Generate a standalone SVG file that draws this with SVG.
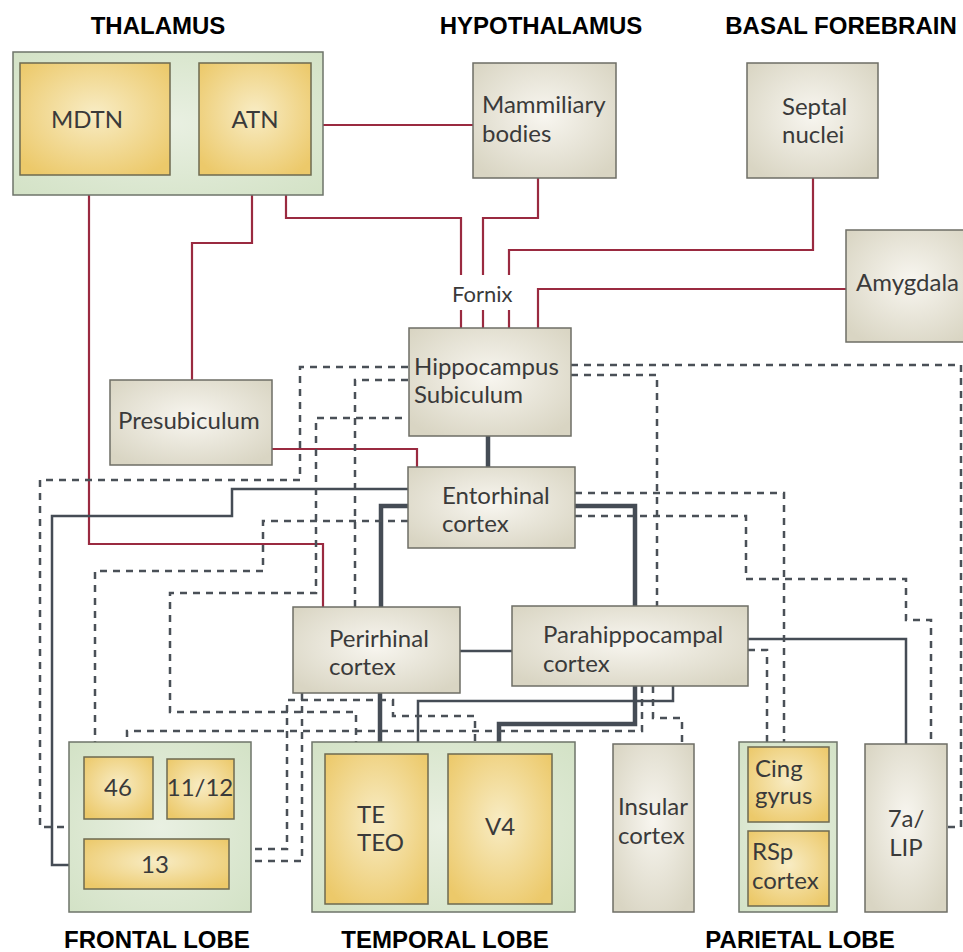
<svg xmlns="http://www.w3.org/2000/svg" width="963" height="952" viewBox="0 0 963 952">
<defs>
<radialGradient id="gBeige" cx="50%" cy="45%" r="65%">
<stop offset="0" stop-color="#f8f6f0"/><stop offset="1" stop-color="#d9d5c3"/>
</radialGradient>
<radialGradient id="gYellow" cx="50%" cy="45%" r="65%">
<stop offset="0" stop-color="#f8ecc4"/><stop offset="1" stop-color="#ecc96a"/>
</radialGradient>
<radialGradient id="gGreen" cx="50%" cy="50%" r="70%">
<stop offset="0" stop-color="#e9f0e2"/><stop offset="1" stop-color="#d3e2c6"/>
</radialGradient>
<style>
.title{font-family:"Liberation Sans",Arial,sans-serif;font-weight:bold;font-size:24px;fill:#000;text-anchor:middle}
.lbl{font-family:Lato,"Open Sans",sans-serif;font-size:24px;fill:#3a3a3a}
.c{text-anchor:middle}
.beige{fill:url(#gBeige);stroke:#6e6e66;stroke-width:1.5}
.yel{fill:url(#gYellow);stroke:#6e6a50;stroke-width:1.5}
.grn{fill:url(#gGreen);stroke:#6e746a;stroke-width:1.5}
.red{fill:none;stroke:#9a2a40;stroke-width:2.2}
.sol{fill:none;stroke:#454c55;stroke-width:2.5}
.thk{fill:none;stroke:#454c55;stroke-width:4.5}
.dsh{fill:none;stroke:#4a5057;stroke-width:2.5;stroke-dasharray:7 6}
</style>
</defs>
<rect width="963" height="952" fill="#ffffff"/>

<g id="titles">
<text class="title" x="158" y="34">THALAMUS</text>
<text class="title" x="541" y="34">HYPOTHALAMUS</text>
<text class="title" x="841" y="34">BASAL FOREBRAIN</text>
<text class="title" x="157" y="948">FRONTAL LOBE</text>
<text class="title" x="445" y="948">TEMPORAL LOBE</text>
<text class="title" x="800" y="948">PARIETAL LOBE</text>
</g>

<g id="connectors">
<path class="red" d="M323,125 H473"/>
<path class="red" d="M89,180 V544 H323 V607"/>
<path class="red" d="M252,180 V243 H192 V380"/>
<path class="red" d="M286,180 V218 H461 V275 M461,310 V328"/>
<path class="red" d="M538,178 V218 H483 V275 M483,310 V328"/>
<path class="red" d="M813,178 V250 H509 V275 M509,310 V328"/>
<path class="red" d="M846,289 H538 V328"/>
<path class="red" d="M272,449 H417 V467"/>
<path class="thk" d="M488,435 V467"/>
<path class="thk" d="M408,506 H381 V607"/>
<path class="thk" d="M575,506 H635 V606"/>
<path class="thk" d="M380,693 V742"/>
<path class="thk" d="M635,686 V724 H499 V742"/>
<path class="sol" d="M408,489 H232 V516 H52 V865 H69"/>
<path class="sol" d="M460,651 H512"/>
<path class="sol" d="M748,639 H906 V744"/>
<path class="sol" d="M673,686 V701 H418 V742"/>
<path class="dsh" d="M408,367 H300 V480 H40 V827 H69"/>
<path class="dsh" d="M408,380 H355 V607"/>
<path class="dsh" d="M402,418 H316 V593 H170 V712 H356 V742"/>
<path class="dsh" d="M408,521 H263 V571 H95 V742"/>
<path class="dsh" d="M571,365 H961 V827 H947"/>
<path class="dsh" d="M571,375 H657 V606"/>
<path class="dsh" d="M575,493 H784 V742"/>
<path class="dsh" d="M575,516 H746 V579 H906 V620 H931 V744"/>
<path class="dsh" d="M748,650 H767 V742"/>
<path class="dsh" d="M653,686 V718 H682 V744"/>
<path class="dsh" d="M642,686 V731 H127 V742"/>
<path class="dsh" d="M229,849 H287 V700 H393 V716 H475 V742"/>
<path class="dsh" d="M229,861 H302 V693"/>
</g>

<g id="thalamus">
<rect class="grn" x="13" y="52" width="310" height="143"/>
</g>
<g id="mdtn">
<rect class="yel" x="20" y="63" width="150" height="112"/>
<text class="lbl c" x="87" y="128">MDTN</text>
</g>
<g id="atn">
<rect class="yel" x="199" y="63" width="112" height="112"/>
<text class="lbl c" x="255" y="128">ATN</text>
</g>
<g id="mammiliary">
<rect class="beige" x="473" y="63" width="143" height="115"/>
<text class="lbl" x="482" y="113">Mammiliary</text>
<text class="lbl" x="482" y="142">bodies</text>
</g>
<g id="septal">
<rect class="beige" x="747" y="63" width="131" height="115"/>
<text class="lbl" x="782" y="115">Septal</text>
<text class="lbl" x="782" y="143">nuclei</text>
</g>
<g id="amygdala">
<rect class="beige" x="846" y="230" width="130" height="112"/>
<text class="lbl" x="856" y="291">Amygdala</text>
</g>
<g id="fornix">
<text class="lbl" x="452" y="302" style="font-size:22px">Fornix</text>
</g>
<g id="hippocampus">
<rect class="beige" x="409" y="328" width="162" height="108"/>
<text class="lbl" x="414" y="375">Hippocampus</text>
<text class="lbl" x="414" y="403">Subiculum</text>
</g>
<g id="presubiculum">
<rect class="beige" x="110" y="380" width="162" height="85"/>
<text class="lbl" x="118" y="429">Presubiculum</text>
</g>
<g id="entorhinal">
<rect class="beige" x="408" y="467" width="167" height="81"/>
<text class="lbl" x="442" y="504">Entorhinal</text>
<text class="lbl" x="442" y="532">cortex</text>
</g>
<g id="perirhinal">
<rect class="beige" x="293" y="607" width="167" height="86"/>
<text class="lbl" x="329" y="647">Perirhinal</text>
<text class="lbl" x="329" y="675">cortex</text>
</g>
<g id="parahippocampal">
<rect class="beige" x="512" y="606" width="236" height="80"/>
<text class="lbl" x="543" y="643">Parahippocampal</text>
<text class="lbl" x="543" y="672">cortex</text>
</g>
<g id="frontal">
<rect class="grn" x="69" y="742" width="182" height="170"/>
</g>
<g id="a46">
<rect class="yel" x="84" y="757" width="69" height="62"/>
<text class="lbl c" x="118" y="796">46</text>
</g>
<g id="a1112">
<rect class="yel" x="167" y="759" width="67" height="60"/>
<text class="lbl c" x="200" y="796">11/12</text>
</g>
<g id="a13">
<rect class="yel" x="84" y="839" width="145" height="50"/>
<text class="lbl c" x="155" y="873">13</text>
</g>
<g id="temporal">
<rect class="grn" x="312" y="742" width="263" height="170"/>
</g>
<g id="teteo">
<rect class="yel" x="325" y="754" width="103" height="150"/>
<text class="lbl" x="357" y="823">TE</text>
<text class="lbl" x="357" y="851">TEO</text>
</g>
<g id="v4">
<rect class="yel" x="448" y="754" width="104" height="150"/>
<text class="lbl c" x="500" y="835">V4</text>
</g>
<g id="insular">
<rect class="beige" x="613" y="744" width="81" height="168"/>
<text class="lbl" x="618" y="815">Insular</text>
<text class="lbl" x="618" y="844">cortex</text>
</g>
<g id="parietal">
<rect class="grn" x="739" y="742" width="98" height="170"/>
</g>
<g id="cing">
<rect class="yel" x="748" y="747" width="81" height="75"/>
<text class="lbl" x="755" y="777">Cing</text>
<text class="lbl" x="755" y="804">gyrus</text>
</g>
<g id="rsp">
<rect class="yel" x="748" y="831" width="81" height="75"/>
<text class="lbl" x="752" y="860">RSp</text>
<text class="lbl" x="752" y="889">cortex</text>
</g>
<g id="lip">
<rect class="beige" x="865" y="744" width="82" height="168"/>
<text class="lbl c" x="906" y="827">7a/</text>
<text class="lbl c" x="906" y="856">LIP</text>
</g>
</svg>
